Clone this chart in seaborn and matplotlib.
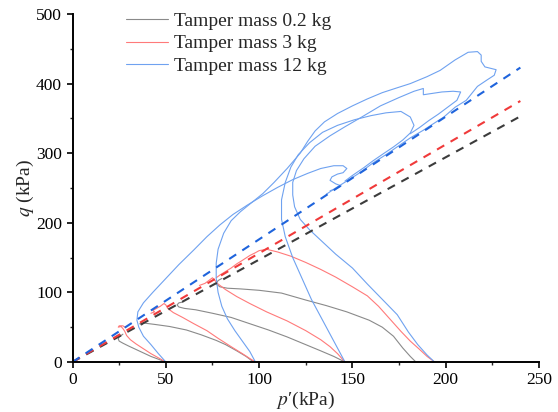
import numpy as np
import matplotlib
matplotlib.use("Agg")
import matplotlib.pyplot as plt
from matplotlib.lines import Line2D
import seaborn as sns

# stress paths, p' (kPa) and q (kPa)
# tamper mass 0.2 kg
g1_p = [50, 46, 42, 38, 34, 30, 27, 25, 24.5, 25, 26, 25.5, 27]
g1_q = [0, 4, 8, 13, 18, 23, 27, 30, 33, 36, 38, 37, 40]
g2_p = [97, 93, 88, 82, 77, 69, 61, 52, 44, 38, 36, 37, 38]
g2_q = [0, 8, 16, 25, 31, 39, 46, 51, 54, 56, 55, 53, 56]
g3_p = [146, 140, 133, 124, 115, 105, 95, 85, 75, 66, 60, 57, 56, 57, 59]
g3_q = [0, 8, 16, 26, 36, 46, 55, 64, 70, 75, 77, 79, 82, 85, 86]
g4_p = [184, 181, 177, 172, 166, 159, 147, 136, 125, 112, 100, 90, 83, 79, 77, 78, 80]
g4_q = [0, 8, 20, 37, 50, 60, 72, 81, 89, 99, 103, 105, 106, 108, 112, 117, 120]

# tamper mass 3 kg
r1_p = [50, 46, 42, 38, 34, 31, 29, 28, 27, 26, 24.5, 25, 27, 28]
r1_q = [0, 6, 12, 19, 26, 32, 38, 44, 48, 51, 50, 52, 52, 50]
r2_p = [98, 95, 91, 85, 78, 72, 65, 59, 54, 51, 50, 49, 47, 45, 43, 44, 42]
r2_q = [0, 5, 12, 22, 34, 45, 55, 64, 71, 77, 82, 84, 80, 77, 74, 72, 70]
r3_p = [146, 142, 138, 133, 125, 115, 104, 95, 88, 82, 78, 76, 75, 73, 71, 68]
r3_q = [0, 12, 22, 32, 45, 59, 72, 84, 94, 104, 112, 118, 121, 117, 113, 110]
r4_p = [194, 190, 186, 181, 176, 170, 164, 158, 150, 141, 133, 125, 117, 110, 104,
        100, 98, 95, 91, 88, 85, 82, 79, 77]
r4_q = [0, 8, 18, 30, 44, 62, 80, 95, 108, 122, 133, 143, 152, 158, 162,
        160, 157, 153, 146, 141, 135, 130, 125, 121]

# tamper mass 12 kg
b1_p = [50, 46, 42, 38, 35.5, 34.5, 35, 38, 43, 50, 57, 65, 72, 79, 86, 94, 102, 110,
        118, 126, 133, 140, 145, 147, 145, 142, 139, 138, 141, 144, 142, 138]
b1_q = [0, 12, 25, 37, 50, 60, 72, 85, 100, 120, 140, 161, 180, 197, 212, 226, 239, 251,
        262, 271, 278, 282, 282, 278, 272, 270, 266, 261, 256, 253, 250, 246]
b2_p = [98, 95, 91, 87, 83, 80, 78, 77, 77, 78, 81, 85, 90, 96, 102, 108, 115, 122, 126,
        130, 135, 142, 150, 158, 166, 174, 181, 190, 197, 205, 212, 217, 219, 219, 221, 227,
        226, 222, 217, 211, 205, 199, 192, 188, 181, 175, 168, 161, 154, 147, 141, 136]
b2_q = [0, 15, 30, 45, 62, 80, 100, 120, 142, 162, 185, 203, 216, 229, 242, 258, 278, 300, 317,
        332, 345, 357, 368, 378, 387, 394, 400, 410, 419, 434, 445, 446, 441, 432, 424, 420,
        412, 405, 396, 376, 366, 352, 340, 333, 322, 311, 298, 286, 272, 260, 250, 241]
b3_p = [146, 142, 138, 133, 128, 123, 118, 114, 112, 112, 114, 117, 121, 127, 134, 142,
        151, 160, 168, 176, 181, 183, 181, 177, 172, 167, 161, 156, 150, 146]
b3_q = [0, 20, 40, 65, 90, 120, 150, 180, 205, 233, 258, 280, 298, 315, 330, 340,
        348, 354, 358, 360, 352, 340, 329, 319, 309, 300, 289, 279, 268, 260]
b4_p = [194, 190, 185, 180, 174, 166, 158, 150, 141, 133, 127, 122, 119, 118, 118, 120,
        124, 130, 138, 146, 155, 165, 175, 183, 188, 188, 193, 198, 204, 208, 206, 201,
        196, 191, 186, 181]
b4_q = [0, 10, 25, 43, 68, 90, 112, 135, 155, 175, 190, 205, 223, 240, 258, 275,
        292, 310, 325, 338, 352, 368, 380, 389, 393, 384, 386, 388, 389, 388, 376, 366,
        356, 347, 337, 328]

# critical state lines (dashed)
csl_p = [0, 240]
csl_q_02 = [0, 353]
csl_q_3 = [0, 375]
csl_q_12 = [0, 423]

labels = ["Tamper mass 0.2 kg", "Tamper mass 3 kg", "Tamper mass 12 kg"]

sns.set_style("ticks")
plt.rcParams["font.family"] = ["Liberation Serif", "DejaVu Serif"]
plt.rcParams["mathtext.fontset"] = "stix"

fig = plt.figure(figsize=(5.58, 4.12), dpi=100)
ax = fig.add_axes([0.130, 0.1214, 0.836, 0.8446])

solid = {"0.2": "#8a8a8a", "3": "#ff7a7a", "12": "#6fa2f0"}
dashc = {"0.2": "#3c3c3c", "3": "#f03a3a", "12": "#1f64dc"}

paths = [("0.2", g1_p, g1_q), ("0.2", g2_p, g2_q), ("0.2", g3_p, g3_q), ("0.2", g4_p, g4_q),
         ("3", r1_p, r1_q), ("3", r2_p, r2_q), ("3", r3_p, r3_q), ("3", r4_p, r4_q),
         ("12", b1_p, b1_q), ("12", b2_p, b2_q), ("12", b3_p, b3_q), ("12", b4_p, b4_q)]
for key, p, q in paths:
    sns.lineplot(x=p, y=q, sort=False, estimator=None, color=solid[key], lw=0.8, ax=ax)

for key, q in [("0.2", csl_q_02), ("3", csl_q_3), ("12", csl_q_12)]:
    sns.lineplot(x=csl_p, y=q, sort=False, estimator=None, color=dashc[key], lw=1.5,
                 linestyle=(0, (4, 3.5)), ax=ax)

ax.set_xlim(0, 250)
ax.set_ylim(0, 500)
ax.set_xticks(range(0, 251, 50))
ax.set_xticks(range(25, 250, 50), minor=True)
ax.set_yticks(range(0, 501, 100))
ax.set_yticks(range(50, 500, 100), minor=True)
ax.tick_params(axis="both", which="major", direction="out", length=4, width=1.2,
               labelsize=12.5, colors="black")
ax.tick_params(axis="both", which="minor", direction="out", length=2.5, width=1.0)
for s in ["left", "bottom"]:
    ax.spines[s].set_linewidth(1.4)
    ax.spines[s].set_color("black")
for s in ["top", "right"]:
    ax.spines[s].set_visible(False)

ax.set_xlabel("$p$\u2032(kPa)", fontsize=14, labelpad=1)
ax.set_ylabel("$q$ (kPa)", fontsize=14, labelpad=0)

handles = [Line2D([], [], color=solid[k], lw=0.8) for k in ["0.2", "3", "12"]]
ax.legend(handles, labels, loc="upper left", bbox_to_anchor=(0.114, 1.005),
          frameon=False, fontsize=14, handlelength=2.2, handletextpad=0.3,
          labelspacing=0.25, borderpad=0, borderaxespad=0)

fig.savefig("out.png", dpi=100)
